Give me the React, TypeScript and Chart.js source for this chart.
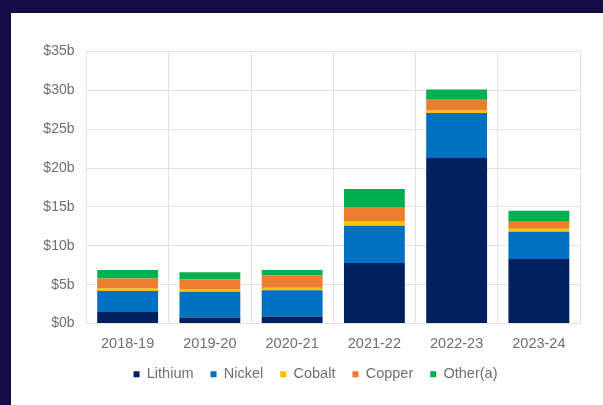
import React, { useEffect, useRef } from "react";
import { Chart, registerables } from "chart.js";

Chart.register(...registerables);

const categories = ["2018-19", "2019-20", "2020-21", "2021-22", "2022-23", "2023-24"];
const lithium = [1.5, 0.8, 0.9, 7.8, 21.3, 8.3];
const nickel = [2.7, 3.3, 3.4, 4.8, 5.8, 3.5];
const cobalt = [0.3, 0.3, 0.3, 0.6, 0.3, 0.4];
const copper = [1.3, 1.3, 1.6, 1.7, 1.4, 1.0];
const other = [1.1, 0.9, 0.7, 2.4, 1.3, 1.3];
const seriesNames = ["Lithium", "Nickel", "Cobalt", "Copper", "Other(a)"];
const yTicks = [0, 5, 10, 15, 20, 25, 30, 35];

const colors = ["#002060", "#0070C0", "#FFC000", "#ED7D31", "#00B050"];
const textColor = "#6f6f6f";
const gridColor = "#e3e3e3";

const legendShift = {
  id: "legendShift",
  afterLayout(chart: any) {
    if (chart.legend) {
      chart.legend.left += 20;
      chart.legend.right += 20;
    }
  },
};

export default function App() {
  const ref = useRef<HTMLCanvasElement | null>(null);
  useEffect(() => {
    document.body.style.margin = "0";
    const ctx = ref.current!;
    const values = [lithium, nickel, cobalt, copper, other];
    const chart = new Chart(ctx, {
      type: "bar",
      data: {
        labels: categories,
        datasets: seriesNames.map((name, i) => ({
          label: name,
          data: values[i],
          backgroundColor: colors[i],
          borderWidth: 0,
          barPercentage: 0.74,
          categoryPercentage: 1,
        })),
      },
      plugins: [legendShift],
      options: {
        animation: false,
        responsive: false,
        maintainAspectRatio: false,
        layout: { padding: { top: 38.5, right: 23, left: 0, bottom: 13.5 } },
        plugins: {
          tooltip: { enabled: false },
          legend: {
            position: "bottom",
            labels: {
              boxWidth: 6,
              boxHeight: 6,
              padding: 17,
              color: textColor,
              font: { family: "Liberation Sans", size: 14.5 },
            },
          },
        },
        scales: {
          x: {
            stacked: true,
            afterFit: (axis: any) => {
              axis.height = axis.height - 15;
            },
            grid: { color: gridColor, drawTicks: false, offset: true },
            border: { color: gridColor },
            ticks: {
              color: textColor,
              padding: 12,
              font: { family: "Liberation Sans", size: 14.5 },
            },
          },
          y: {
            stacked: true,
            min: 0,
            max: 35,
            afterBuildTicks: (axis: any) => {
              axis.ticks = yTicks.map((v) => ({ value: v }));
            },
            afterFit: (axis: any) => {
              axis.width = 75.5;
            },
            grid: { color: gridColor, drawTicks: false },
            border: { display: false },
            ticks: {
              color: textColor,
              padding: 12,
              font: { family: "Liberation Sans", size: 14 },
              callback: (v: any) => "$" + v + "b",
            },
          },
        },
      },
    });
    return () => chart.destroy();
  }, []);
  return (
    <div style={{ position: "fixed", left: 0, top: 0, width: 603, height: 405, background: "#150c45" }}>
      <div style={{ position: "absolute", left: 11, top: 13, width: 592, height: 392, background: "#ffffff" }}>
        <canvas ref={ref} width={592} height={392} style={{ display: "block" }} />
      </div>
    </div>
  );
}
